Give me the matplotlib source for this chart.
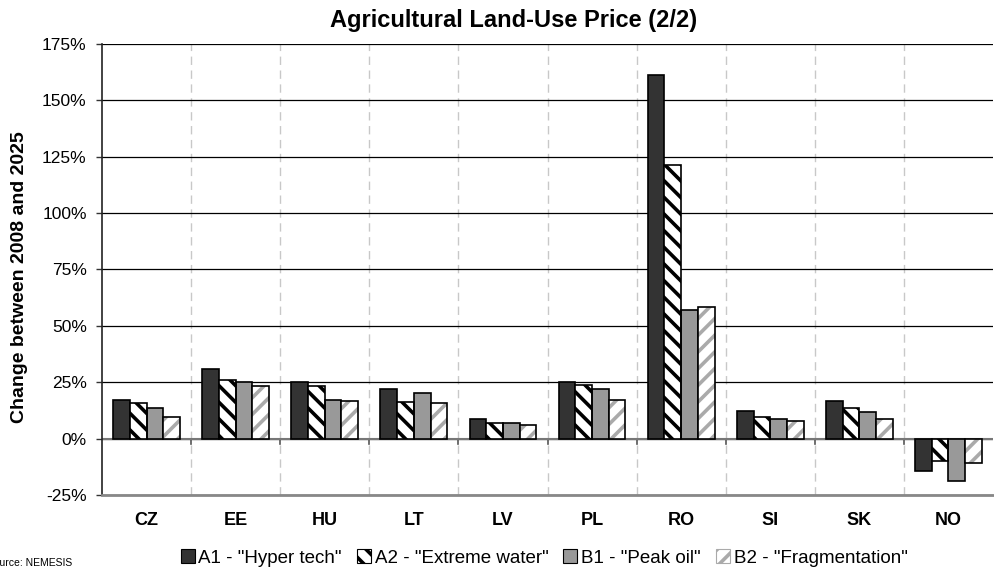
import matplotlib
matplotlib.use('Agg')
import matplotlib.pyplot as plt
import numpy as np
from matplotlib import font_manager
from matplotlib.patches import Patch
from matplotlib.ticker import FuncFormatter, MultipleLocator

plt.rcParams['font.family'] = ['Liberation Sans', 'DejaVu Sans']
plt.rcParams['hatch.linewidth'] = 2.6

# condensed face for the country names if it is there
names = {f.name for f in font_manager.fontManager.ttflist}
narrow = 'Liberation Sans Narrow' if 'Liberation Sans Narrow' in names else 'Liberation Sans'

countries = ['CZ', 'EE', 'HU', 'LT', 'LV', 'PL', 'RO', 'SI', 'SK', 'NO']
scenarios = ['A1 - "Hyper tech"', 'A2 - "Extreme water"',
             'B1 - "Peak oil"', 'B2 - "Fragmentation"']

# change between 2008 and 2025, in %
a1 = [17.2, 31.0, 25.0, 21.9, 8.9, 24.9, 161.4, 12.4, 16.7, -14.3]
a2 = [15.8, 25.8, 23.3, 16.4, 7.1, 23.8, 121.3, 9.8, 13.6, -9.8]
b1 = [13.4, 25.0, 17.2, 20.2, 7.1, 21.8, 56.9, 8.6, 11.6, -18.8]
b2 = [9.6, 23.3, 16.6, 15.7, 5.9, 17.3, 58.5, 8.0, 8.5, -10.7]
series = [a1, a2, b1, b2]

# (face, hatch, hatch colour)
styles = [('#333333', None, None),
          ('white', '\\\\', 'black'),
          ('#999999', None, None),
          ('white', '//', '#aaaaaa')]

fig = plt.figure(figsize=(9.94, 5.69), dpi=100)
ax = fig.add_axes([102 / 994, 74 / 569, 891 / 994, 451 / 569])

x = np.arange(len(countries))
w = 0.1875
for i, (vals, (fc, hatch, hc)) in enumerate(zip(series, styles)):
    pos = x + (i - 1.5) * w
    if hatch:
        ax.bar(pos, vals, w, color=fc, edgecolor=hc, hatch=hatch,
               linewidth=0, zorder=3)
        ax.bar(pos, vals, w, facecolor='none', edgecolor='black',
               linewidth=1.2, zorder=4)
    else:
        ax.bar(pos, vals, w, color=fc, edgecolor='black',
               linewidth=1.2, zorder=3)

ax.set_xlim(-0.5, len(countries) - 0.5)
ax.set_ylim(-25, 175)
ax.yaxis.set_major_locator(MultipleLocator(25))
ax.yaxis.set_major_formatter(FuncFormatter(lambda v, p: f'{v:.0f}%'))
ax.grid(axis='y', color='black', linewidth=0.9, zorder=1)

# dashed separators between countries
for b in np.arange(0.5, len(countries) - 0.5):
    ax.axvline(b, color='#c8c8c8', linestyle=(0, (6, 4)), linewidth=1.0,
               zorder=1)
    ax.plot([b, b], [0, -2.5], color='#555555', linewidth=1.2, zorder=2)
ax.axhline(0, color='#777777', linewidth=1.5, zorder=2)

ax.set_xticks(x)
ax.set_xticklabels(countries, fontweight='bold', fontsize=13,
                   family=[narrow, 'DejaVu Sans'])
ax.tick_params(axis='x', length=0, pad=12)
ax.tick_params(axis='y', labelsize=12.5, length=4, width=1, pad=7,
               color='#333333')

for s in ['top', 'right']:
    ax.spines[s].set_visible(False)
ax.spines['left'].set_color('#222222')
ax.spines['left'].set_linewidth(1.2)
ax.spines['bottom'].set_color('#888888')
ax.spines['bottom'].set_linewidth(2)

fig.text(19.5 / 994, 1 - 277 / 569, 'Change between 2008 and 2025',
         rotation=90, ha='center', va='center', fontweight='bold',
         fontsize=14)
fig.text(514 / 994, 1 - 20 / 569, 'Agricultural Land-Use Price (2/2)',
         ha='center', va='center', fontweight='bold', fontsize=17)

handles = []
for lab, (fc, hatch, hc) in zip(scenarios, styles):
    handles.append(Patch(facecolor=fc, edgecolor=hc if hatch else 'black',
                         hatch=hatch, label=lab, linewidth=0.8))
fig.legend(handles=handles, loc='center',
           bbox_to_anchor=(544 / 994, 1 - 558 / 569),
           ncol=4, frameon=False, fontsize=13.5, handlelength=0.75,
           handleheight=0.75, handletextpad=0.2, columnspacing=0.8,
           borderpad=0.1)

fig.text(-13 / 994, 1 / 569, 'Source: NEMESIS', fontsize=7.5, ha='left',
         va='bottom')

fig.savefig('out.png', dpi=100)
